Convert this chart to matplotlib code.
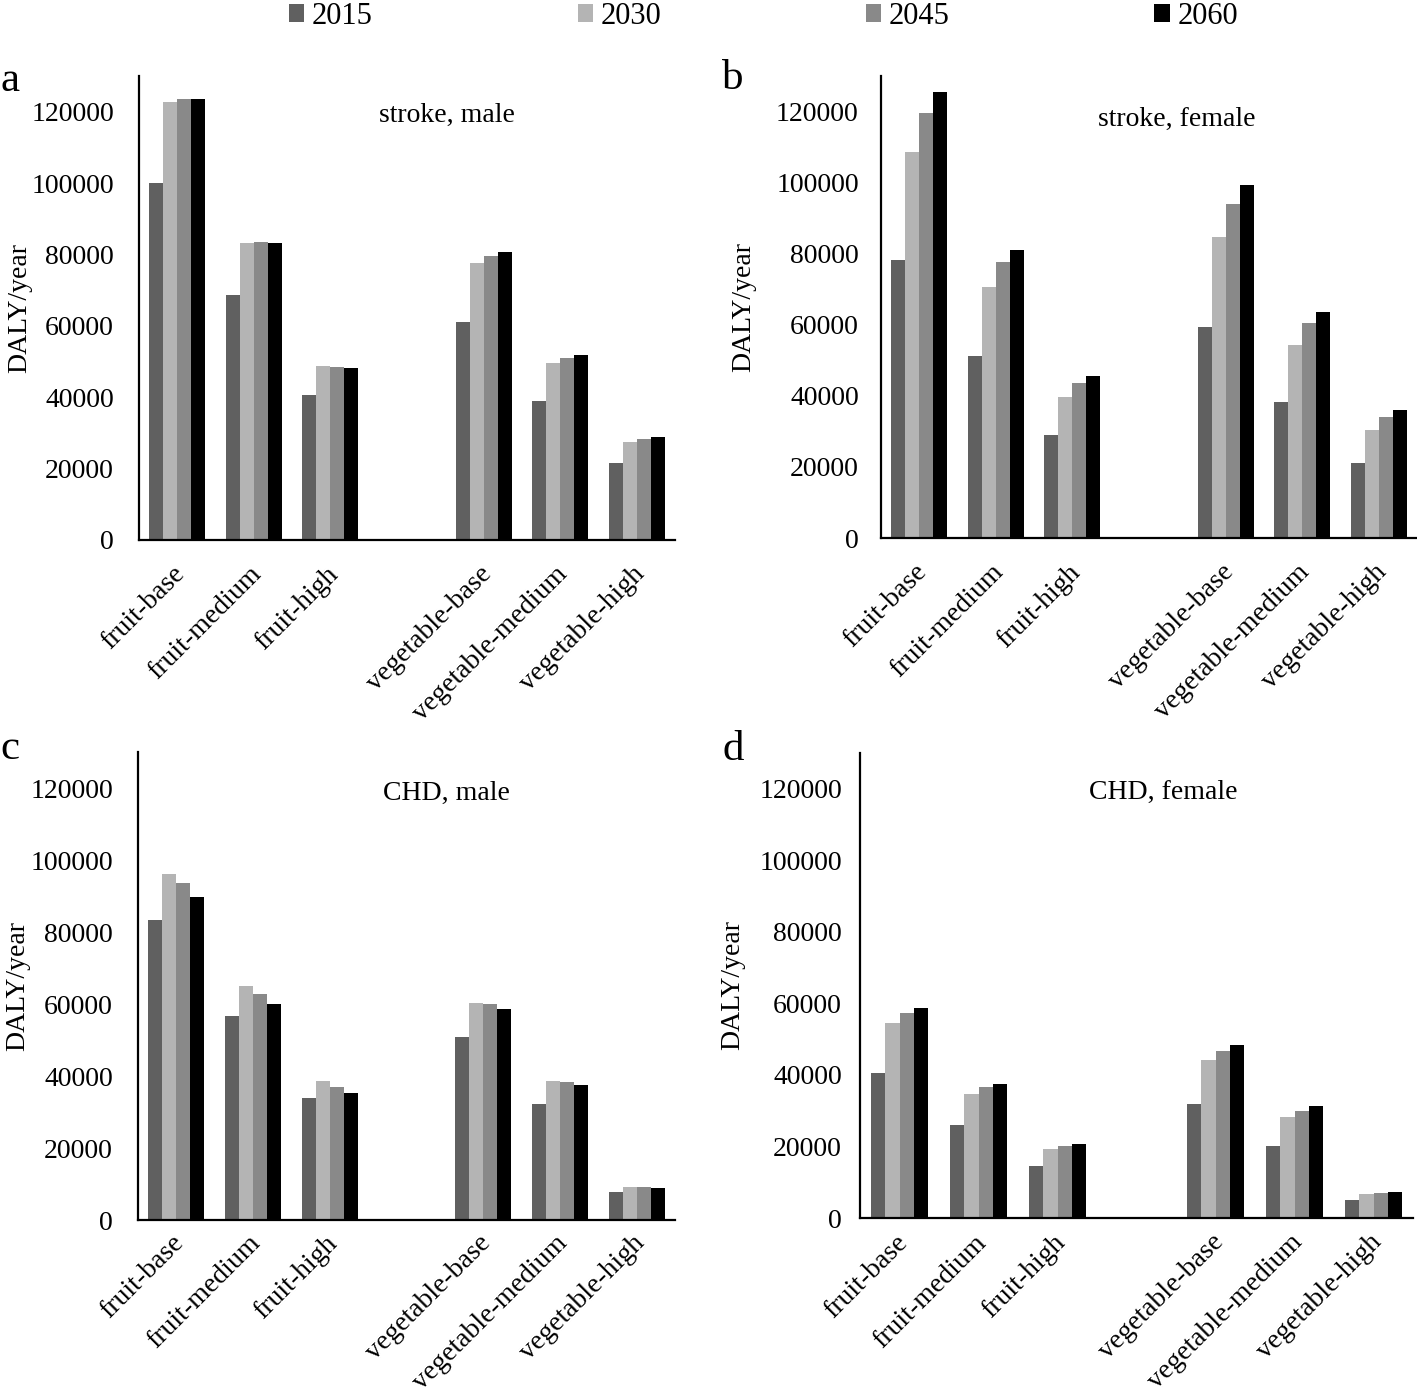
import numpy as np
import matplotlib
matplotlib.use("Agg")
import matplotlib.pyplot as plt
import matplotlib.transforms as mtransforms

plt.rcParams['font.family'] = ['Liberation Serif', 'DejaVu Serif']

categories = ['fruit-base', 'fruit-medium', 'fruit-high', '',
              'vegetable-base', 'vegetable-medium', 'vegetable-high']
years = ['2015', '2030', '2045', '2060']
colors = ['#606060', '#b4b4b4', '#898989', '#000000']

nan = np.nan
# stroke, male
a_2015 = [100000, 68700, 40600, nan, 61100, 39000, 21600]
a_2030 = [122800, 83300, 48800, nan, 77700, 49600, 27500]
a_2045 = [123600, 83500, 48500, nan, 79600, 51000, 28300]
a_2060 = [123600, 83300, 48200, nan, 80700, 51900, 28900]
# stroke, female
b_2015 = [78300, 51300, 29000, nan, 59400, 38300, 21100]
b_2030 = [108700, 70700, 39700, nan, 84800, 54400, 30400]
b_2045 = [119700, 77700, 43700, nan, 94100, 60600, 34100]
b_2060 = [125400, 81100, 45600, nan, 99200, 63700, 36100]
# CHD, male
c_2015 = [83400, 56800, 33800, nan, 50700, 32200, 7800]
c_2030 = [96200, 65100, 38500, nan, 60400, 38500, 9200]
c_2045 = [93700, 62900, 36900, nan, 60100, 38200, 9200]
c_2060 = [89800, 60100, 35200, nan, 58500, 37400, 8900]
# CHD, female
d_2015 = [40400, 26100, 14600, nan, 32000, 20200, 5100]
d_2030 = [54500, 34800, 19400, nan, 44100, 28100, 6800]
d_2045 = [57300, 36500, 20200, nan, 46600, 29800, 7100]
d_2060 = [58700, 37600, 20800, nan, 48300, 31200, 7300]

panels = [
    ('a', 'stroke, male', [a_2015, a_2030, a_2045, a_2060]),
    ('b', 'stroke, female', [b_2015, b_2030, b_2045, b_2060]),
    ('c', 'CHD, male', [c_2015, c_2030, c_2045, c_2060]),
    ('d', 'CHD, female', [d_2015, d_2030, d_2045, d_2060]),
]

W, H = 1417, 1397
fig = plt.figure(figsize=(W / 100, H / 100), dpi=100)

def box(l, r, t, b):
    return [l / W, 1 - b / H, (r - l) / W, (b - t) / H]

boxes = [box(139, 675, 76, 540), box(881, 1417, 76, 538),
         box(138, 675, 752, 1220), box(860, 1413, 753, 1218)]
title_pos = [(0.575, 0.916), (0.552, 0.907), (0.575, 0.912), (0.548, 0.916)]
ylab_x = [-0.200, -0.232, -0.200, -0.208]
ypads = [18, 16, 18, 13]
xpads = [22, 22, 14, 15]
letter_pos = [(0, 91), (722, 89), (0, 759), (722, 760)]

bw = 0.1825
x = np.arange(len(categories))
handles = None
for i, (letter, title, series) in enumerate(panels):
    ax = fig.add_axes(boxes[i])
    hs = []
    for k, (yr, vals) in enumerate(zip(years, series)):
        h = ax.bar(x + (k - 1.5) * bw, vals, width=bw, color=colors[k],
                   edgecolor='none', label=yr)
        hs.append(h)
    if handles is None:
        handles = hs
    ax.set_xlim(-0.5, len(categories) - 0.5)
    ax.set_ylim(0, 130000)
    ax.set_yticks(np.arange(0, 120001, 20000))
    ax.set_yticklabels([str(v) for v in range(0, 120001, 20000)], fontsize=20)
    ax.tick_params(axis='y', length=0, pad=ypads[i])
    ax.tick_params(axis='x', length=0, pad=xpads[i])
    ax.set_xticks(x)
    ax.set_xticklabels(categories, rotation=45, ha='right', va='center',
                       rotation_mode='anchor', fontsize=20)
    off = mtransforms.ScaledTranslation(0.04, 0, fig.dpi_scale_trans)
    for lab in ax.get_xticklabels():
        lab.set_transform(lab.get_transform() + off)
    for s in ['top', 'right']:
        ax.spines[s].set_visible(False)
    for s in ['left', 'bottom']:
        ax.spines[s].set_linewidth(1.6)
        ax.spines[s].set_color('black')
    ax.set_ylabel('DALY/year', fontsize=20)
    ax.yaxis.set_label_coords(ylab_x[i], 0.5)
    ax.text(title_pos[i][0], title_pos[i][1], title, transform=ax.transAxes,
            ha='center', va='center', fontsize=20)
    lx, ly = letter_pos[i]
    fig.text(lx / W, 1 - ly / H, letter, fontsize=31, ha='left', va='baseline')

fig.legend(handles, years, loc='upper left', bbox_to_anchor=(289 / W, 1.0 - 2 / H),
           ncol=4, frameon=False, prop={'family': 'Liberation Serif', 'size': 22},
           handlelength=0.5, handleheight=0.5,
           handletextpad=0.25, columnspacing=6.7, borderpad=0, borderaxespad=0)

fig.savefig('out.png', dpi=100)
